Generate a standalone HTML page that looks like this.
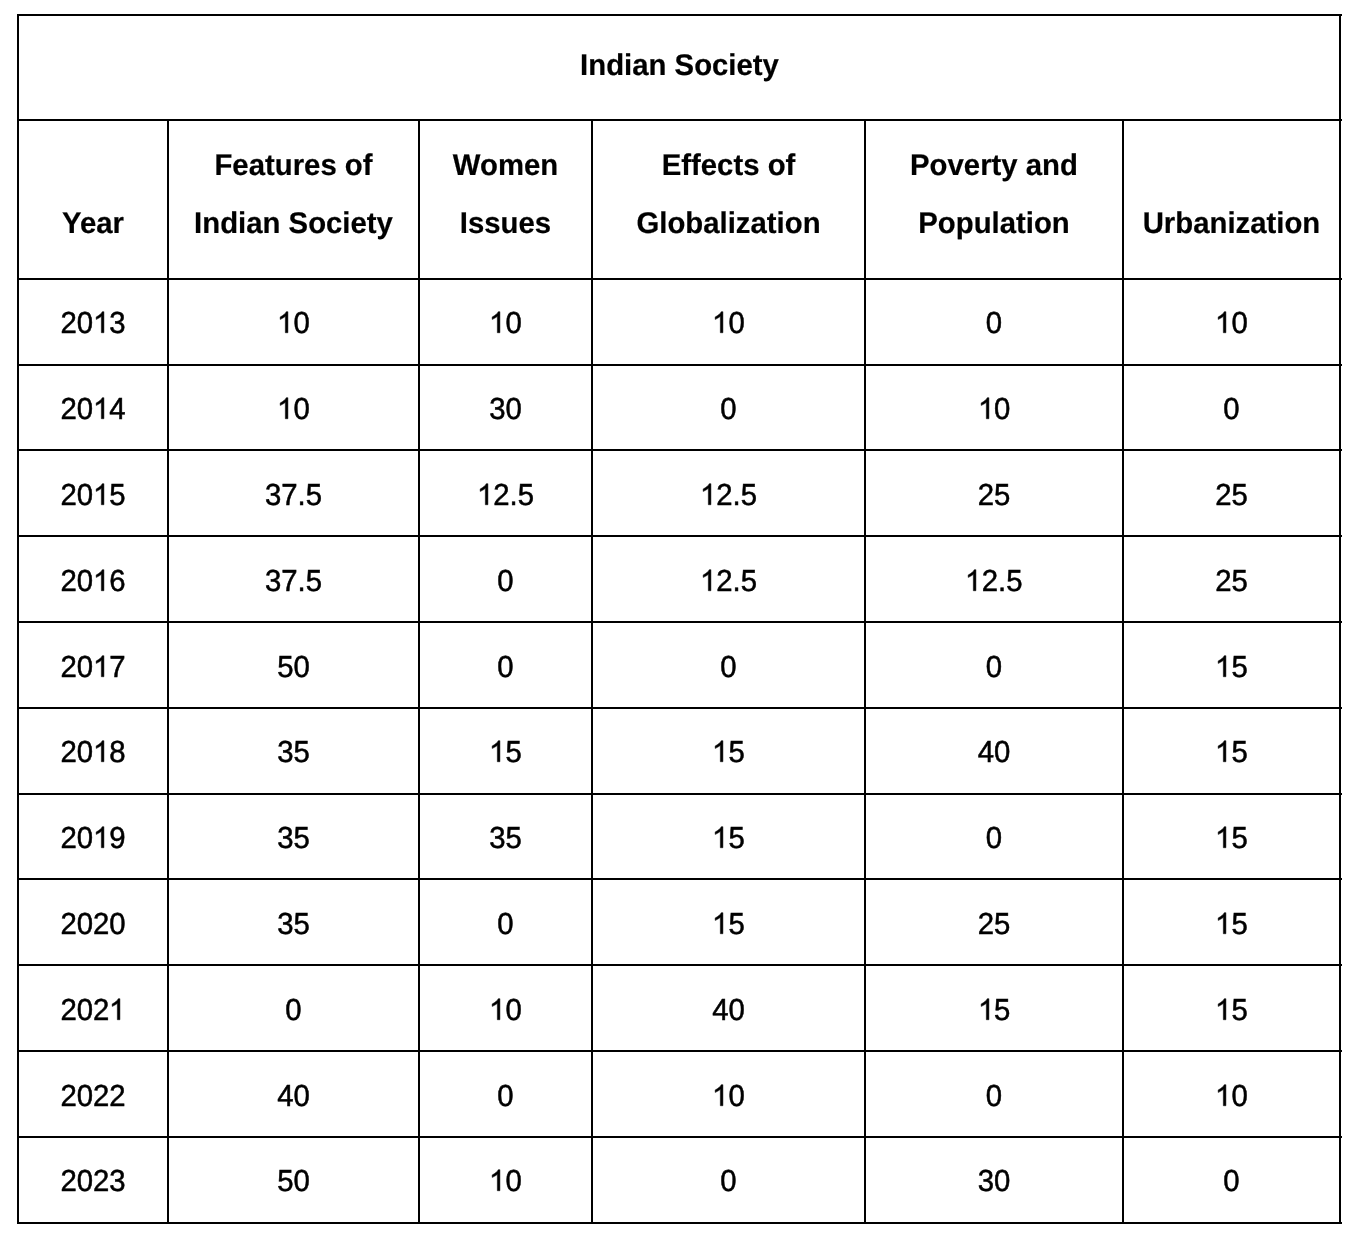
<!DOCTYPE html>
<html>
<head>
<meta charset="utf-8">
<title>Indian Society</title>
<style>
html,body{margin:0;padding:0;background:#fff;}
body{width:1370px;height:1236px;position:relative;overflow:hidden;font-family:"Liberation Sans",sans-serif;font-size:29.33px;color:#000;}
#layer{position:absolute;left:0;top:0;width:1370px;height:1236px;will-change:transform;transform:translateZ(0);-webkit-font-smoothing:antialiased;text-rendering:geometricPrecision;}
.l{position:absolute;background:#000;}
.t{position:absolute;text-align:center;white-space:nowrap;line-height:40px;height:40px;transform-origin:50% 29px;transform:scaleY(1.035);-webkit-text-stroke:0.5px #000;}
.o{color:transparent;-webkit-text-stroke:0 transparent;}
.o svg{width:.55615em;height:0.70765em;margin-left:-.55615em;vertical-align:baseline;overflow:visible;}
.o path{fill:#000;stroke:#000;stroke-width:34;stroke-linejoin:miter;}
.b{font-weight:bold;transform:scaleY(1.02);-webkit-text-stroke:0.2px #000;}
</style>
</head>
<body>
<div id="layer">

<!-- grid lines -->
<div class="l" style="left:17px;top:14px;width:1325px;height:2px"></div>
<div class="l" style="left:17px;top:119px;width:1325px;height:2px"></div>
<div class="l" style="left:17px;top:278px;width:1325px;height:2px"></div>
<div class="l" style="left:17px;top:364px;width:1325px;height:2px"></div>
<div class="l" style="left:17px;top:449px;width:1325px;height:2px"></div>
<div class="l" style="left:17px;top:535px;width:1325px;height:2px"></div>
<div class="l" style="left:17px;top:621px;width:1325px;height:2px"></div>
<div class="l" style="left:17px;top:707px;width:1325px;height:2px"></div>
<div class="l" style="left:17px;top:793px;width:1325px;height:2px"></div>
<div class="l" style="left:17px;top:878px;width:1325px;height:2px"></div>
<div class="l" style="left:17px;top:964px;width:1325px;height:2px"></div>
<div class="l" style="left:17px;top:1050px;width:1325px;height:2px"></div>
<div class="l" style="left:17px;top:1136px;width:1325px;height:2px"></div>
<div class="l" style="left:17px;top:1222px;width:1325px;height:2px"></div>
<div class="l" style="left:17px;top:14px;width:2px;height:1210px"></div>
<div class="l" style="left:167px;top:119px;width:2px;height:1105px"></div>
<div class="l" style="left:418px;top:119px;width:2px;height:1105px"></div>
<div class="l" style="left:591px;top:119px;width:2px;height:1105px"></div>
<div class="l" style="left:864px;top:119px;width:2px;height:1105px"></div>
<div class="l" style="left:1122px;top:119px;width:2px;height:1105px"></div>
<div class="l" style="left:1339px;top:14px;width:2px;height:1210px"></div>
<!-- title -->
<div class="t b" style="left:19.5px;width:1320px;top:46px">Indian Society</div>
<!-- header -->
<div class="t b" style="left:19px;width:148px;top:204px">Year</div>
<div class="t b" style="left:169px;width:249px;top:146px">Features of</div>
<div class="t b" style="left:169px;width:249px;top:204px">Indian Society</div>
<div class="t b" style="left:420px;width:171px;top:146px">Women</div>
<div class="t b" style="left:420px;width:171px;top:204px">Issues</div>
<div class="t b" style="left:593px;width:271px;top:146px">Effects of</div>
<div class="t b" style="left:593px;width:271px;top:204px">Globalization</div>
<div class="t b" style="left:866px;width:256px;top:146px">Poverty and</div>
<div class="t b" style="left:866px;width:256px;top:204px">Population</div>
<div class="t b" style="left:1124px;width:215px;top:204px">Urbanization</div>
<!-- data rows -->
<div class="t" style="left:19px;width:148px;top:304px">20<span class="o">1<svg viewBox="0 0 1139 1500" preserveAspectRatio="none"><path d="M763 1500H583V353Q518 415 412.5 477T223 570V396Q374 325 487 224T647 28H763Z"/></svg></span>3</div>
<div class="t" style="left:169px;width:249px;top:304px"><span class="o">1<svg viewBox="0 0 1139 1500" preserveAspectRatio="none"><path d="M763 1500H583V353Q518 415 412.5 477T223 570V396Q374 325 487 224T647 28H763Z"/></svg></span>0</div>
<div class="t" style="left:420px;width:171px;top:304px"><span class="o">1<svg viewBox="0 0 1139 1500" preserveAspectRatio="none"><path d="M763 1500H583V353Q518 415 412.5 477T223 570V396Q374 325 487 224T647 28H763Z"/></svg></span>0</div>
<div class="t" style="left:593px;width:271px;top:304px"><span class="o">1<svg viewBox="0 0 1139 1500" preserveAspectRatio="none"><path d="M763 1500H583V353Q518 415 412.5 477T223 570V396Q374 325 487 224T647 28H763Z"/></svg></span>0</div>
<div class="t" style="left:866px;width:256px;top:304px">0</div>
<div class="t" style="left:1124px;width:215px;top:304px"><span class="o">1<svg viewBox="0 0 1139 1500" preserveAspectRatio="none"><path d="M763 1500H583V353Q518 415 412.5 477T223 570V396Q374 325 487 224T647 28H763Z"/></svg></span>0</div>
<div class="t" style="left:19px;width:148px;top:390px">20<span class="o">1<svg viewBox="0 0 1139 1500" preserveAspectRatio="none"><path d="M763 1500H583V353Q518 415 412.5 477T223 570V396Q374 325 487 224T647 28H763Z"/></svg></span>4</div>
<div class="t" style="left:169px;width:249px;top:390px"><span class="o">1<svg viewBox="0 0 1139 1500" preserveAspectRatio="none"><path d="M763 1500H583V353Q518 415 412.5 477T223 570V396Q374 325 487 224T647 28H763Z"/></svg></span>0</div>
<div class="t" style="left:420px;width:171px;top:390px">30</div>
<div class="t" style="left:593px;width:271px;top:390px">0</div>
<div class="t" style="left:866px;width:256px;top:390px"><span class="o">1<svg viewBox="0 0 1139 1500" preserveAspectRatio="none"><path d="M763 1500H583V353Q518 415 412.5 477T223 570V396Q374 325 487 224T647 28H763Z"/></svg></span>0</div>
<div class="t" style="left:1124px;width:215px;top:390px">0</div>
<div class="t" style="left:19px;width:148px;top:476px">20<span class="o">1<svg viewBox="0 0 1139 1500" preserveAspectRatio="none"><path d="M763 1500H583V353Q518 415 412.5 477T223 570V396Q374 325 487 224T647 28H763Z"/></svg></span>5</div>
<div class="t" style="left:169px;width:249px;top:476px">37.5</div>
<div class="t" style="left:420px;width:171px;top:476px"><span class="o">1<svg viewBox="0 0 1139 1500" preserveAspectRatio="none"><path d="M763 1500H583V353Q518 415 412.5 477T223 570V396Q374 325 487 224T647 28H763Z"/></svg></span>2.5</div>
<div class="t" style="left:593px;width:271px;top:476px"><span class="o">1<svg viewBox="0 0 1139 1500" preserveAspectRatio="none"><path d="M763 1500H583V353Q518 415 412.5 477T223 570V396Q374 325 487 224T647 28H763Z"/></svg></span>2.5</div>
<div class="t" style="left:866px;width:256px;top:476px">25</div>
<div class="t" style="left:1124px;width:215px;top:476px">25</div>
<div class="t" style="left:19px;width:148px;top:562px">20<span class="o">1<svg viewBox="0 0 1139 1500" preserveAspectRatio="none"><path d="M763 1500H583V353Q518 415 412.5 477T223 570V396Q374 325 487 224T647 28H763Z"/></svg></span>6</div>
<div class="t" style="left:169px;width:249px;top:562px">37.5</div>
<div class="t" style="left:420px;width:171px;top:562px">0</div>
<div class="t" style="left:593px;width:271px;top:562px"><span class="o">1<svg viewBox="0 0 1139 1500" preserveAspectRatio="none"><path d="M763 1500H583V353Q518 415 412.5 477T223 570V396Q374 325 487 224T647 28H763Z"/></svg></span>2.5</div>
<div class="t" style="left:866px;width:256px;top:562px"><span class="o">1<svg viewBox="0 0 1139 1500" preserveAspectRatio="none"><path d="M763 1500H583V353Q518 415 412.5 477T223 570V396Q374 325 487 224T647 28H763Z"/></svg></span>2.5</div>
<div class="t" style="left:1124px;width:215px;top:562px">25</div>
<div class="t" style="left:19px;width:148px;top:648px">20<span class="o">1<svg viewBox="0 0 1139 1500" preserveAspectRatio="none"><path d="M763 1500H583V353Q518 415 412.5 477T223 570V396Q374 325 487 224T647 28H763Z"/></svg></span>7</div>
<div class="t" style="left:169px;width:249px;top:648px">50</div>
<div class="t" style="left:420px;width:171px;top:648px">0</div>
<div class="t" style="left:593px;width:271px;top:648px">0</div>
<div class="t" style="left:866px;width:256px;top:648px">0</div>
<div class="t" style="left:1124px;width:215px;top:648px"><span class="o">1<svg viewBox="0 0 1139 1500" preserveAspectRatio="none"><path d="M763 1500H583V353Q518 415 412.5 477T223 570V396Q374 325 487 224T647 28H763Z"/></svg></span>5</div>
<div class="t" style="left:19px;width:148px;top:733px">20<span class="o">1<svg viewBox="0 0 1139 1500" preserveAspectRatio="none"><path d="M763 1500H583V353Q518 415 412.5 477T223 570V396Q374 325 487 224T647 28H763Z"/></svg></span>8</div>
<div class="t" style="left:169px;width:249px;top:733px">35</div>
<div class="t" style="left:420px;width:171px;top:733px"><span class="o">1<svg viewBox="0 0 1139 1500" preserveAspectRatio="none"><path d="M763 1500H583V353Q518 415 412.5 477T223 570V396Q374 325 487 224T647 28H763Z"/></svg></span>5</div>
<div class="t" style="left:593px;width:271px;top:733px"><span class="o">1<svg viewBox="0 0 1139 1500" preserveAspectRatio="none"><path d="M763 1500H583V353Q518 415 412.5 477T223 570V396Q374 325 487 224T647 28H763Z"/></svg></span>5</div>
<div class="t" style="left:866px;width:256px;top:733px">40</div>
<div class="t" style="left:1124px;width:215px;top:733px"><span class="o">1<svg viewBox="0 0 1139 1500" preserveAspectRatio="none"><path d="M763 1500H583V353Q518 415 412.5 477T223 570V396Q374 325 487 224T647 28H763Z"/></svg></span>5</div>
<div class="t" style="left:19px;width:148px;top:819px">20<span class="o">1<svg viewBox="0 0 1139 1500" preserveAspectRatio="none"><path d="M763 1500H583V353Q518 415 412.5 477T223 570V396Q374 325 487 224T647 28H763Z"/></svg></span>9</div>
<div class="t" style="left:169px;width:249px;top:819px">35</div>
<div class="t" style="left:420px;width:171px;top:819px">35</div>
<div class="t" style="left:593px;width:271px;top:819px"><span class="o">1<svg viewBox="0 0 1139 1500" preserveAspectRatio="none"><path d="M763 1500H583V353Q518 415 412.5 477T223 570V396Q374 325 487 224T647 28H763Z"/></svg></span>5</div>
<div class="t" style="left:866px;width:256px;top:819px">0</div>
<div class="t" style="left:1124px;width:215px;top:819px"><span class="o">1<svg viewBox="0 0 1139 1500" preserveAspectRatio="none"><path d="M763 1500H583V353Q518 415 412.5 477T223 570V396Q374 325 487 224T647 28H763Z"/></svg></span>5</div>
<div class="t" style="left:19px;width:148px;top:905px">2020</div>
<div class="t" style="left:169px;width:249px;top:905px">35</div>
<div class="t" style="left:420px;width:171px;top:905px">0</div>
<div class="t" style="left:593px;width:271px;top:905px"><span class="o">1<svg viewBox="0 0 1139 1500" preserveAspectRatio="none"><path d="M763 1500H583V353Q518 415 412.5 477T223 570V396Q374 325 487 224T647 28H763Z"/></svg></span>5</div>
<div class="t" style="left:866px;width:256px;top:905px">25</div>
<div class="t" style="left:1124px;width:215px;top:905px"><span class="o">1<svg viewBox="0 0 1139 1500" preserveAspectRatio="none"><path d="M763 1500H583V353Q518 415 412.5 477T223 570V396Q374 325 487 224T647 28H763Z"/></svg></span>5</div>
<div class="t" style="left:19px;width:148px;top:991px">202<span class="o">1<svg viewBox="0 0 1139 1500" preserveAspectRatio="none"><path d="M763 1500H583V353Q518 415 412.5 477T223 570V396Q374 325 487 224T647 28H763Z"/></svg></span></div>
<div class="t" style="left:169px;width:249px;top:991px">0</div>
<div class="t" style="left:420px;width:171px;top:991px"><span class="o">1<svg viewBox="0 0 1139 1500" preserveAspectRatio="none"><path d="M763 1500H583V353Q518 415 412.5 477T223 570V396Q374 325 487 224T647 28H763Z"/></svg></span>0</div>
<div class="t" style="left:593px;width:271px;top:991px">40</div>
<div class="t" style="left:866px;width:256px;top:991px"><span class="o">1<svg viewBox="0 0 1139 1500" preserveAspectRatio="none"><path d="M763 1500H583V353Q518 415 412.5 477T223 570V396Q374 325 487 224T647 28H763Z"/></svg></span>5</div>
<div class="t" style="left:1124px;width:215px;top:991px"><span class="o">1<svg viewBox="0 0 1139 1500" preserveAspectRatio="none"><path d="M763 1500H583V353Q518 415 412.5 477T223 570V396Q374 325 487 224T647 28H763Z"/></svg></span>5</div>
<div class="t" style="left:19px;width:148px;top:1077px">2022</div>
<div class="t" style="left:169px;width:249px;top:1077px">40</div>
<div class="t" style="left:420px;width:171px;top:1077px">0</div>
<div class="t" style="left:593px;width:271px;top:1077px"><span class="o">1<svg viewBox="0 0 1139 1500" preserveAspectRatio="none"><path d="M763 1500H583V353Q518 415 412.5 477T223 570V396Q374 325 487 224T647 28H763Z"/></svg></span>0</div>
<div class="t" style="left:866px;width:256px;top:1077px">0</div>
<div class="t" style="left:1124px;width:215px;top:1077px"><span class="o">1<svg viewBox="0 0 1139 1500" preserveAspectRatio="none"><path d="M763 1500H583V353Q518 415 412.5 477T223 570V396Q374 325 487 224T647 28H763Z"/></svg></span>0</div>
<div class="t" style="left:19px;width:148px;top:1162px">2023</div>
<div class="t" style="left:169px;width:249px;top:1162px">50</div>
<div class="t" style="left:420px;width:171px;top:1162px"><span class="o">1<svg viewBox="0 0 1139 1500" preserveAspectRatio="none"><path d="M763 1500H583V353Q518 415 412.5 477T223 570V396Q374 325 487 224T647 28H763Z"/></svg></span>0</div>
<div class="t" style="left:593px;width:271px;top:1162px">0</div>
<div class="t" style="left:866px;width:256px;top:1162px">30</div>
<div class="t" style="left:1124px;width:215px;top:1162px">0</div>
</div>
</body>
</html>
